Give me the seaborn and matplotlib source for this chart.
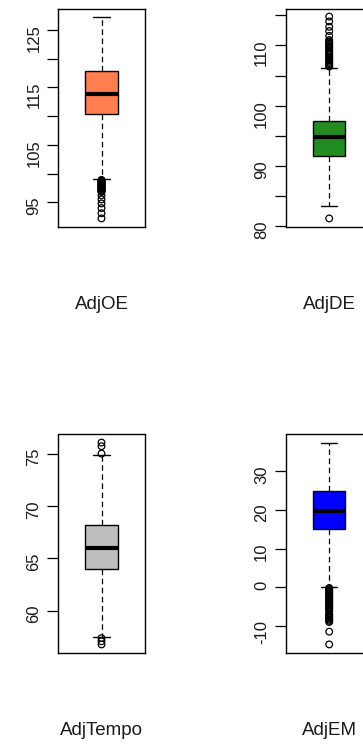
import numpy as np
import pandas as pd
import seaborn as sns
import matplotlib.pyplot as plt

# five-number summaries: lower whisker, Q1, median, Q3, upper whisker
names = ["AdjOE", "AdjDE", "AdjTempo", "AdjEM"]
colors = ["#FF7F50", "#228B22", "#BEBEBE", "#0000FF"]

summary_oe = [99.1, 110.3, 113.8, 117.8, 127.3]
summary_de = [83.3, 91.6, 94.8, 97.5, 106.3]
summary_tempo = [57.5, 63.95, 66.0, 68.2, 74.9]
summary_em = [0.0, 15.0, 19.7, 24.8, 37.4]

# outliers (the dense runs are packed closely, as in the picture)
outliers_oe = [98.9, 98.8, 98.7, 98.6, 98.5, 98.4, 98.3, 98.2, 98.1, 98.0,
               97.9, 97.8, 97.7, 97.6, 97.5, 97.4, 97.3, 97.2, 97.1, 97.0,
               96.9, 96.8, 96.2, 95.5, 94.8, 94.0, 93.1, 92.2]
outliers_de = [81.3, 106.5, 106.7, 106.9, 107.1, 107.3, 107.5, 107.7, 107.9,
               108.1, 108.4, 108.6, 108.8, 109.0, 109.2, 109.5, 109.7, 109.9,
               110.1, 110.3, 110.5, 110.7, 110.9, 111.6, 112.4, 113.1, 114.0,
               114.8]
outliers_tempo = [56.8, 57.1, 57.4, 75.0, 75.7, 76.05]
outliers_em = [-0.2, -0.5, -0.8, -1.1, -1.4, -1.7, -2.0, -2.3, -2.6, -2.9,
               -3.2, -3.5, -3.8, -4.1, -4.4, -4.7, -5.0, -5.3, -5.6, -5.9,
               -6.2, -6.9, -7.2, -7.5, -7.8, -8.1, -8.4, -8.7, -9.0, -11.5,
               -14.8]

# y ticks and which of them carry a label
ticks_oe = [95, 100, 105, 110, 115, 120, 125]
labels_oe = ["95", "", "105", "", "115", "", "125"]
ticks_de = [80, 85, 90, 95, 100, 105, 110, 115]
labels_de = ["80", "", "90", "", "100", "", "110", ""]
ticks_tempo = [60, 65, 70, 75]
labels_tempo = ["60", "65", "70", "75"]
ticks_em = [-10, 0, 10, 20, 30]
labels_em = ["-10", "0", "10", "20", "30"]

sns.set_theme(style="white")
plt.rcParams["font.family"] = ["Liberation Sans", "DejaVu Sans"]

fig = plt.figure(figsize=(3.63, 7.44), dpi=100)
W, H = 363, 744


def panel(px, py, name, summary, outliers, color, ticks, labels):
    # px, py: left / top of the plot box in pixels
    ax = fig.add_axes([px / W, 1 - (py + 218) / H, 87 / W, 218 / H])
    df = pd.DataFrame({"value": summary})
    sns.boxplot(data=df, y="value", ax=ax, color=color, saturation=1,
                width=0.4, whis=(0, 100), fliersize=0, linewidth=1.0,
                linecolor="black",
                medianprops=dict(color="black", linewidth=3),
                whiskerprops=dict(color="black", linewidth=0.9,
                                  linestyle=(0, (4.5, 2.8))),
                capprops=dict(color="black", linewidth=1.0))
    sns.stripplot(y=outliers, ax=ax, jitter=False, size=4.8)
    pts = ax.collections[-1]
    pts.set_facecolor("none")
    pts.set_edgecolor("black")
    pts.set_linewidth(0.9)

    allv = summary + outliers
    lo, hi = min(allv), max(allv)
    pad = 0.04 * (hi - lo)
    ax.set_ylim(lo - pad, hi + pad)
    ax.set_xlim(-0.54, 0.54)
    ax.set_xticks([])
    ax.set_yticks(ticks)
    ax.set_yticklabels(labels)
    ax.tick_params(axis="y", left=True, length=8, width=0.9, pad=4,
                   labelsize=12, labelrotation=90, color="black",
                   labelcolor="#1a1a1a")
    for s in ax.spines.values():
        s.set_visible(True)
        s.set_color("black")
        s.set_linewidth(1.0)
    ax.set_ylabel("")
    ax.set_xlabel(name, fontsize=13.5, labelpad=50, color="#1a1a1a")
    return ax


panel(58, 8.5, names[0], summary_oe, outliers_oe, colors[0], ticks_oe, labels_oe)
panel(285.7, 8.5, names[1], summary_de, outliers_de, colors[1], ticks_de, labels_de)
panel(58, 434.5, names[2], summary_tempo, outliers_tempo, colors[2], ticks_tempo, labels_tempo)
panel(285.7, 434.5, names[3], summary_em, outliers_em, colors[3], ticks_em, labels_em)

fig.savefig("out.png", dpi=100)
